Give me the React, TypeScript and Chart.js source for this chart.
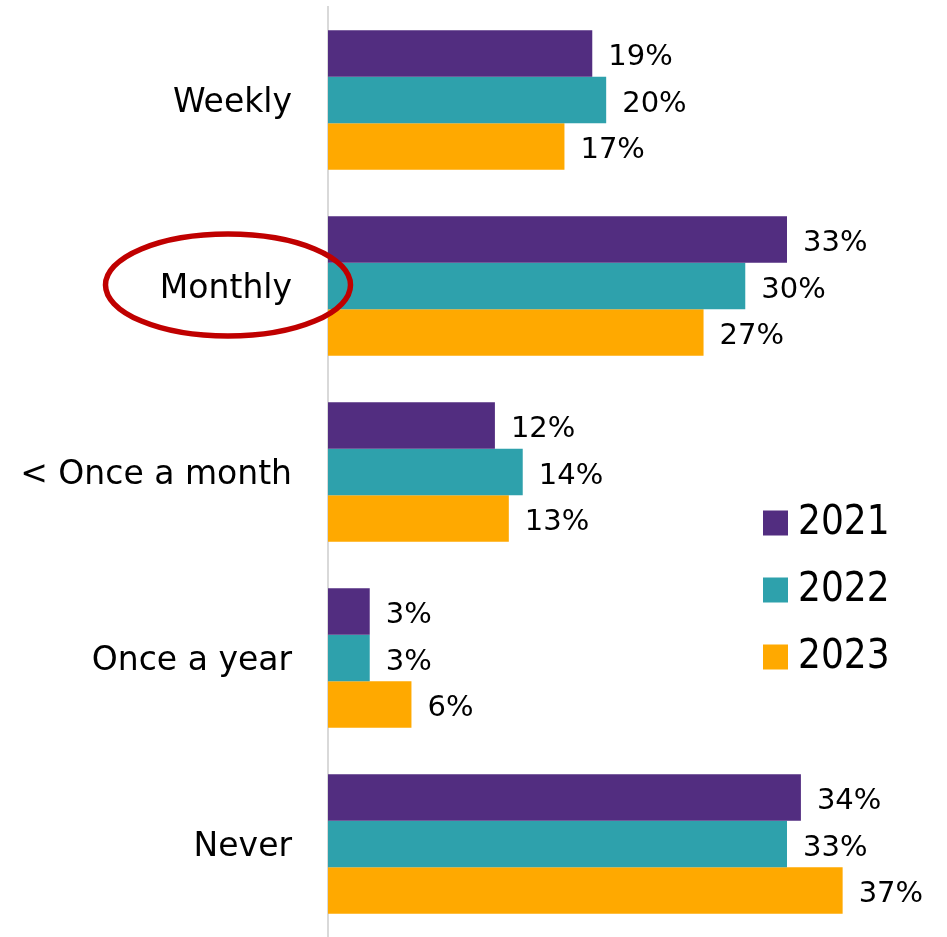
import React, { useEffect, useRef } from "react";
import { Chart, registerables } from "chart.js";

Chart.register(...registerables);

const categories = ["Weekly", "Monthly", "< Once a month", "Once a year", "Never"];
const years = ["2021", "2022", "2023"];
const values2021 = [19, 33, 12, 3, 34];
const values2022 = [20, 30, 14, 3, 33];
const values2023 = [17, 27, 13, 6, 37];
const colors = ["#522D80", "#2EA1AC", "#FFA900"];
const highlightedCategory = "Monthly";

const FONT = "'DejaVu Sans', sans-serif";
const FONT_COND = "'DejaVu Sans Condensed', 'DejaVu Sans', sans-serif";

const labelPlugin = {
  id: "barLabels",
  afterDatasetsDraw(chart: any) {
    const ctx = chart.ctx;
    ctx.save();
    ctx.font = `29px ${FONT}`;
    ctx.fillStyle = "#000";
    ctx.textBaseline = "middle";
    ctx.textAlign = "left";
    chart.data.datasets.forEach((ds: any, i: number) => {
      const meta = chart.getDatasetMeta(i);
      meta.data.forEach((bar: any, j: number) => {
        ctx.fillText(ds.data[j] + "%", bar.x + 16, bar.y + 4);
      });
    });
    ctx.restore();
  },
};

const legendPlugin = {
  id: "customLegend",
  afterDraw(chart: any) {
    const ctx = chart.ctx;
    const area = chart.chartArea;
    ctx.save();
    ctx.font = `40px ${FONT_COND}`;
    ctx.textBaseline = "middle";
    ctx.textAlign = "left";
    chart.data.datasets.forEach((ds: any, i: number) => {
      const cy = 523 + i * 67;
      const sx = area.left + 435;
      ctx.fillStyle = ds.backgroundColor;
      ctx.fillRect(sx, cy - 12.5, 25, 25);
      ctx.fillStyle = "#000";
      ctx.fillText(ds.label, sx + 35, cy + 1);
    });
    ctx.restore();
  },
};

const ellipsePlugin = {
  id: "highlight",
  afterDraw(chart: any) {
    const ctx = chart.ctx;
    const y = chart.scales.y.getPixelForValue(categories.indexOf(highlightedCategory));
    const x = chart.chartArea.left - 100;
    ctx.save();
    ctx.strokeStyle = "#C00000";
    ctx.lineWidth = 5.5;
    ctx.beginPath();
    ctx.ellipse(x, y - 1, 122.5, 51, 0, 0, Math.PI * 2);
    ctx.stroke();
    ctx.restore();
  },
};

export default function App() {
  const ref = useRef<HTMLCanvasElement>(null);
  useEffect(() => {
    if (!ref.current) return;
    const chart = new Chart(ref.current, {
      type: "bar",
      data: {
        labels: categories,
        datasets: [values2021, values2022, values2023].map((d, i) => ({
          label: years[i],
          data: d,
          backgroundColor: colors[i],
          borderWidth: 0,
          categoryPercentage: 0.75,
          barPercentage: 1,
        })),
      },
      options: {
        indexAxis: "y",
        animation: false,
        responsive: false,
        maintainAspectRatio: false,
        layout: { padding: { top: 7, right: 7, bottom: 0, left: 0 } },
        plugins: { legend: { display: false }, tooltip: { enabled: false } },
        scales: {
          x: { display: false, min: 0, max: 44 },
          y: {
            afterFit(scale: any) {
              scale.width = 328;
              scale.paddingTop = 0;
              scale.paddingBottom = 0;
            },
            grid: { display: false, drawTicks: true, tickLength: 36, tickColor: "rgba(0,0,0,0)" },
            border: { display: true, color: "#D9D9D9", width: 2 },
            ticks: {
              padding: 0,
              labelOffset: 3,
              color: "#000",
              font: { family: FONT, size: 33 },
            },
          },
        },
      },
      plugins: [labelPlugin, legendPlugin, ellipsePlugin],
    });
    return () => chart.destroy();
  }, []);
  return (
    <div style={{ position: "fixed", left: 0, top: 0, width: 947, height: 937, background: "#fff" }}>
      <canvas ref={ref} width={947} height={937} />
    </div>
  );
}
